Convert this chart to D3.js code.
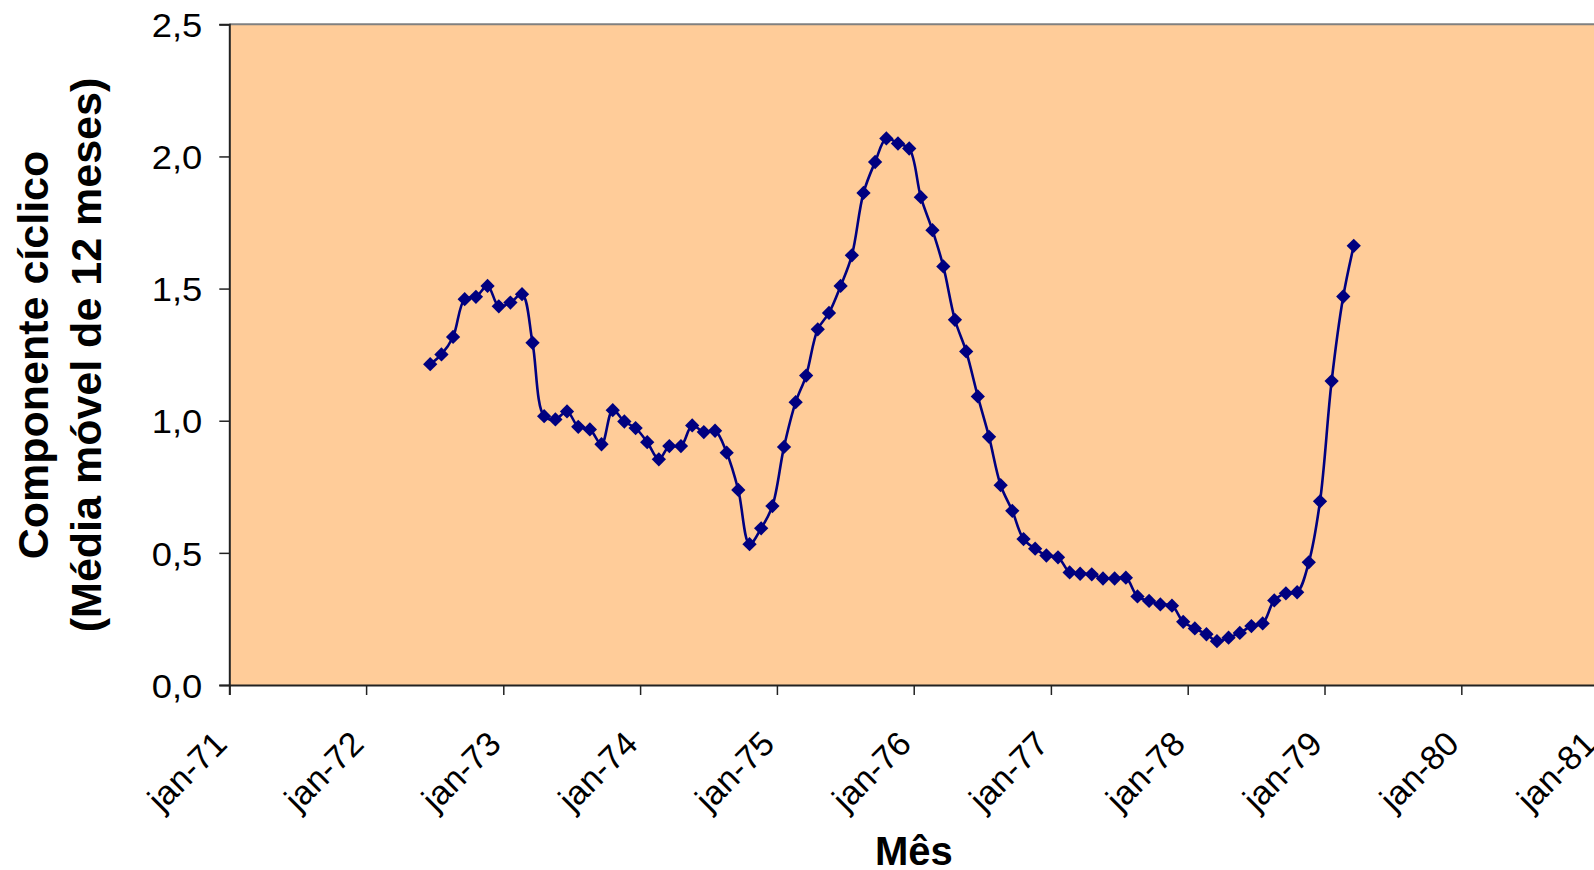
<!DOCTYPE html>
<html>
<head>
<meta charset="utf-8">
<script src="https://cdn.jsdelivr.net/npm/d3@7"></script>
<style>
  html, body { margin: 0; padding: 0; background: #ffffff; }
  svg { display: block; }
  text { font-family: "Liberation Sans", Arial, sans-serif; fill: #000; }
</style>
</head>
<body>
<svg id="chart" width="1594" height="870"></svg>
<script>
// ---- data ----
const months = [
  "1972-06","1972-07","1972-08","1972-09","1972-10","1972-11","1972-12",
  "1973-01","1973-02","1973-03","1973-04","1973-05","1973-06","1973-07","1973-08","1973-09","1973-10","1973-11","1973-12",
  "1974-01","1974-02","1974-03","1974-04","1974-05","1974-06","1974-07","1974-08","1974-09","1974-10","1974-11","1974-12",
  "1975-01","1975-02","1975-03","1975-04","1975-05","1975-06","1975-07","1975-08","1975-09","1975-10","1975-11","1975-12",
  "1976-01","1976-02","1976-03","1976-04","1976-05","1976-06","1976-07","1976-08","1976-09","1976-10","1976-11","1976-12",
  "1977-01","1977-02","1977-03","1977-04","1977-05","1977-06","1977-07","1977-08","1977-09","1977-10","1977-11","1977-12",
  "1978-01","1978-02","1978-03","1978-04","1978-05","1978-06","1978-07","1978-08","1978-09","1978-10","1978-11","1978-12",
  "1979-01","1979-02","1979-03"
];
const cyclic = [
  1.214,1.251,1.317,1.460,1.469,1.510,1.433,
  1.447,1.479,1.295,1.017,1.005,1.035,0.977,0.967,0.911,1.040,0.997,0.972,
  0.919,0.854,0.904,0.904,0.982,0.957,0.962,0.879,0.738,0.533,0.593,0.677,
  0.901,1.070,1.171,1.346,1.408,1.510,1.626,1.862,1.979,2.068,2.049,2.030,
  1.846,1.721,1.584,1.382,1.262,1.092,0.939,0.756,0.659,0.552,0.516,0.490,
  0.483,0.426,0.421,0.419,0.403,0.403,0.406,0.335,0.318,0.305,0.300,0.239,
  0.214,0.192,0.166,0.179,0.197,0.223,0.233,0.320,0.347,0.351,0.464,0.695,
  1.150,1.470,1.662
];
const xTickLabels = ["jan-71","jan-72","jan-73","jan-74","jan-75","jan-76","jan-77","jan-78","jan-79","jan-80","jan-81"];
const yTicks = [0, 0.5, 1.0, 1.5, 2.0, 2.5];
const yTitleLines = ["Componente cíclico", "(Média móvel de 12 meses)"];
const xTitle = "Mês";

// ---- layout ----
const plot = { left: 229.3, right: 1598.5, top: 24.3, bottom: 685 };
const svg = d3.select("#chart");

const parseMonth = d3.utcParse("%Y-%m");
const pointDate = m => d3.utcDay.offset(parseMonth(m), 19);
const tickDates = xTickLabels.map(l => new Date(Date.UTC(1900 + (+l.slice(4)), 0, 1)));

const x = d3.scaleUtc()
  .domain([tickDates[0], tickDates[tickDates.length - 1]])
  .range([plot.left, plot.right]);
const y = d3.scaleLinear().domain([0, 2.5]).range([plot.bottom, plot.top]);

const data = months.map((m, i) => ({ date: pointDate(m), value: cyclic[i] }));
const fmt = d => d3.format(".1f")(d).replace(".", ",");

// plot area background
svg.append("rect")
  .attr("x", plot.left).attr("y", plot.top)
  .attr("width", plot.right - plot.left).attr("height", plot.bottom - plot.top)
  .attr("fill", "#FFCC99");
// top border
svg.append("line")
  .attr("x1", plot.left).attr("x2", plot.right)
  .attr("y1", plot.top).attr("y2", plot.top)
  .attr("stroke", "#808080").attr("stroke-width", 2);

// y axis
const yAxis = d3.axisLeft(y).tickValues(yTicks).tickSize(10).tickFormat("");
const gy = svg.append("g").attr("transform", `translate(${plot.left},0)`).call(yAxis);
gy.select(".domain").attr("stroke", "#222").attr("stroke-width", 2);
gy.selectAll(".tick line").attr("stroke", "#222").attr("stroke-width", 1.5);
gy.selectAll(".tick").append("text")
  .attr("transform", "translate(-27,0) scale(1.07,1)")
  .attr("text-anchor", "end")
  .attr("dy", "0.36em")
  .style("font-size", "34px")
  .text(d => fmt(d));

// x axis
const xAxis = d3.axisBottom(x).tickValues(tickDates).tickSize(10).tickFormat("");
const gx = svg.append("g").attr("transform", `translate(0,${plot.bottom})`).call(xAxis);
gx.select(".domain").attr("stroke", "#222").attr("stroke-width", 2);
gx.selectAll(".tick line").attr("stroke", "#222").attr("stroke-width", 1.5);
gx.selectAll(".tick").append("text")
  .attr("transform", "translate(-1,61) rotate(-45)")
  .attr("text-anchor", "end")
  .style("font-size", "34px")
  .text((d, i) => xTickLabels[i]);

// line
const line = d3.line()
  .x(d => x(d.date)).y(d => y(d.value))
  .curve(d3.curveCatmullRom.alpha(0.5));
svg.append("path")
  .datum(data)
  .attr("d", line)
  .attr("fill", "none")
  .attr("stroke", "#000080")
  .attr("stroke-width", 2.6);

// markers
const diamond = d3.symbol().type(d3.symbolDiamond2).size(130);
svg.append("g").selectAll("path")
  .data(data).join("path")
  .attr("d", diamond)
  .attr("transform", d => `translate(${x(d.date)},${y(d.value)})`)
  .attr("fill", "#000080");

// axis titles
const yt = svg.append("text")
  .attr("transform", "translate(0,355) rotate(-90)")
  .attr("text-anchor", "middle")
  .style("font-size", "43px").style("font-weight", "bold");
yt.append("tspan").attr("x", 0).attr("y", 48).text(yTitleLines[0]);
yt.append("tspan").attr("x", 0).attr("y", 101).text(yTitleLines[1]);

svg.append("text")
  .attr("x", (plot.left + plot.right) / 2).attr("y", 865)
  .attr("text-anchor", "middle")
  .style("font-size", "40px").style("font-weight", "bold")
  .text(xTitle);
</script>
</body>
</html>
